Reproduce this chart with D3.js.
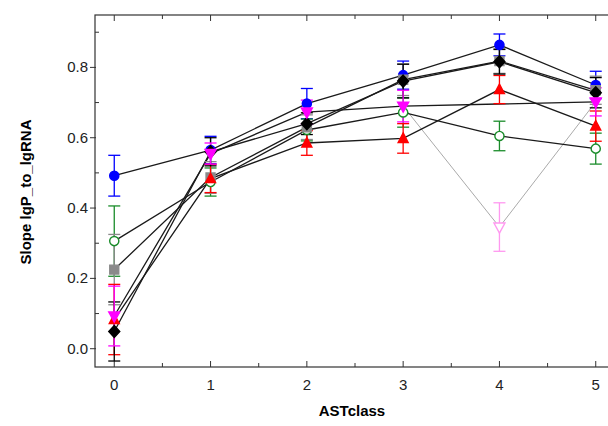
<!DOCTYPE html>
<html>
<head>
<meta charset="utf-8">
<script src="https://cdn.jsdelivr.net/npm/d3@7"></script>
<style>
  body { margin: 0; background: #fff; }
  svg { display: block; font-family: "Liberation Sans", Arial, sans-serif; }
</style>
</head>
<body>
<div id="my_dataviz"><svg></svg></div>
<script>
// x categories
var astClass = [0, 1, 2, 3, 4, 5];

// series values + error (half-length)
var blueVals = [0.492, 0.565, 0.697, 0.778, 0.864, 0.750];
var blueErr = [0.058, 0.039, 0.043, 0.040, 0.031, 0.039];
var greenVals = [0.306, 0.474, 0.622, 0.672, 0.605, 0.569];
var greenErr = [0.100, 0.040, 0.031, 0.042, 0.042, 0.044];
var grayVals = [0.225, 0.487, 0.630, 0.765, 0.818, 0.735];
var grayErr = [0.100, 0.045, 0.035, 0.045, 0.035, 0.040];
var redVals = [0.083, 0.484, 0.585, 0.598, 0.737, 0.633];
var redErr = [0.100, 0.040, 0.035, 0.042, 0.040, 0.043];
var blackVals = [0.049, 0.560, 0.640, 0.761, 0.816, 0.728];
var blackErr = [0.084, 0.040, 0.031, 0.048, 0.035, 0.043];
var magentaVals = [0.093, 0.555, 0.673, 0.690, 0.346, 0.702];
var magentaErr = [0.085, 0.030, 0.034, 0.045, 0.069, 0.040];
var magentaExcluded = [false, false, false, false, true, false];

var yTicks = [0.0, 0.2, 0.4, 0.6, 0.8];

var series = [
    {name: "blue", vals: blueVals, err: blueErr, color: "#0000ff", shape: "circle", fill: true},
    {name: "green", vals: greenVals, err: greenErr, color: "#1a8c2a", shape: "circle", fill: false},
    {name: "gray", vals: grayVals, err: grayErr, color: "#8a8a8a", shape: "square", fill: true},
    {name: "red", vals: redVals, err: redErr, color: "#ff0000", shape: "triUp", fill: true},
    {name: "black", vals: blackVals, err: blackErr, color: "#000000", shape: "diamond", fill: true},
    {name: "magenta", vals: magentaVals, err: magentaErr, color: "#ff00ff", shape: "triDown", fill: true, excluded: magentaExcluded}
];

var margin = {top: 15, left: 95};
var width = 520, height = 352;

var svg = d3.select("#my_dataviz").select("svg")
    .attr("width", 608)
    .attr("height", 426);

var g = svg.append("g")
    .attr("transform", "translate(" + margin.left + "," + margin.top + ")");

var xAxis = d3.scaleLinear().domain([-0.2, 5.2]).range([0, width]);
var yAxis = d3.scaleLinear().domain([-0.052, 0.949]).range([height, 0]);

// frame
g.append("rect")
    .attr("x", 0).attr("y", 0)
    .attr("width", width).attr("height", height)
    .attr("fill", "none")
    .attr("stroke", "#333")
    .attr("stroke-width", 1.2);

// x ticks (inward, bottom and top)
var xMinor = d3.range(0, 5.51, 0.5);
xMinor.forEach(function (v) {
    var major = Math.abs(v - Math.round(v)) < 1e-6;
    var len = major ? 6 : 4;
    g.append("line")
        .attr("x1", xAxis(v)).attr("x2", xAxis(v))
        .attr("y1", height).attr("y2", height - len)
        .attr("stroke", "#333");
    g.append("line")
        .attr("x1", xAxis(v)).attr("x2", xAxis(v))
        .attr("y1", 0).attr("y2", len)
        .attr("stroke", "#333");
});
g.selectAll(".xlab")
    .data(astClass)
    .enter()
    .append("text")
    .attr("class", "xlab")
    .attr("x", function (d) { return xAxis(d); })
    .attr("y", height + 23)
    .attr("text-anchor", "middle")
    .attr("font-size", 15)
    .attr("fill", "#222")
    .text(function (d) { return d; });

// y ticks: majors outward, minors inward
d3.range(0, 0.91, 0.1).forEach(function (v) {
    var major = Math.round(v * 10) % 2 == 0;
    g.append("line")
        .attr("x1", major ? -5 : 0).attr("x2", major ? 1 : 4)
        .attr("y1", yAxis(v)).attr("y2", yAxis(v))
        .attr("stroke", "#333");
});
g.selectAll(".ylab")
    .data(yTicks)
    .enter()
    .append("text")
    .attr("class", "ylab")
    .attr("x", -7)
    .attr("y", function (d) { return yAxis(d) + 5; })
    .attr("text-anchor", "end")
    .attr("font-size", 15)
    .attr("fill", "#222")
    .text(function (d) { return d.toFixed(1); });

// axis titles
svg.append("text")
    .attr("x", 352).attr("y", 416)
    .attr("text-anchor", "middle")
    .attr("font-size", 15)
    .attr("font-weight", "bold")
    .text("ASTclass");
svg.append("text")
    .attr("transform", "translate(31,192) rotate(-90)")
    .attr("text-anchor", "middle")
    .attr("font-size", 15)
    .attr("font-weight", "bold")
    .text("Slope lgP_to_lgRNA");

var plot = g.append("g");

var lineGen = d3.line()
    .x(function (d) { return xAxis(d.x); })
    .y(function (d) { return yAxis(d.y); });

// thin grey line through the excluded magenta point
plot.append("path")
    .datum([3, 4, 5].map(function (i) { return {x: astClass[i], y: magentaVals[i]}; }))
    .attr("d", lineGen)
    .attr("fill", "none")
    .attr("stroke", "#aaa")
    .attr("stroke-width", 1);

// connecting lines (black), skipping excluded points
series.forEach(function (s) {
    var pts = astClass.map(function (x, i) { return {x: x, y: s.vals[i], ex: s.excluded ? s.excluded[i] : false}; })
        .filter(function (d) { return !d.ex; });
    plot.append("path")
        .datum(pts)
        .attr("d", lineGen)
        .attr("fill", "none")
        .attr("stroke", "#1a1a1a")
        .attr("stroke-width", 1.3);
});

// error bars
series.forEach(function (s) {
    astClass.forEach(function (x, i) {
        var ex = s.excluded ? s.excluded[i] : false;
        var col = ex ? "#ff99f0" : s.color;
        var cx = xAxis(x);
        var y1 = yAxis(s.vals[i] + s.err[i]), y2 = yAxis(s.vals[i] - s.err[i]);
        plot.append("line").attr("x1", cx).attr("x2", cx).attr("y1", y1).attr("y2", y2)
            .attr("stroke", col).attr("stroke-width", 1.3);
        [y1, y2].forEach(function (yy) {
            plot.append("line").attr("x1", cx - 6).attr("x2", cx + 6).attr("y1", yy).attr("y2", yy)
                .attr("stroke", col).attr("stroke-width", 1.3);
        });
    });
});

// markers
function shapePath(shape) {
    if (shape == "circle") return d3.symbol().type(d3.symbolCircle).size(66)();
    if (shape == "square") return "M-4.5,-4.5H4.5V4.5H-4.5Z";
    if (shape == "diamond") return "M0,-6L5.5,0L0,6L-5.5,0Z";
    if (shape == "triUp") return "M0,-5.5L5,4L-5,4Z";
    if (shape == "triDown") return "M0,6L5.5,-4L-5.5,-4Z";
}
series.forEach(function (s) {
    astClass.forEach(function (x, i) {
        var ex = s.excluded ? s.excluded[i] : false;
        var col = ex ? "#ff99f0" : s.color;
        var filled = s.fill && !ex;
        plot.append("path")
            .attr("d", shapePath(s.shape))
            .attr("transform", "translate(" + xAxis(x) + "," + yAxis(s.vals[i]) + ")")
            .attr("fill", filled ? col : "#fff")
            .attr("stroke", col)
            .attr("stroke-width", 1.4);
    });
});
</script>
</body>
</html>
